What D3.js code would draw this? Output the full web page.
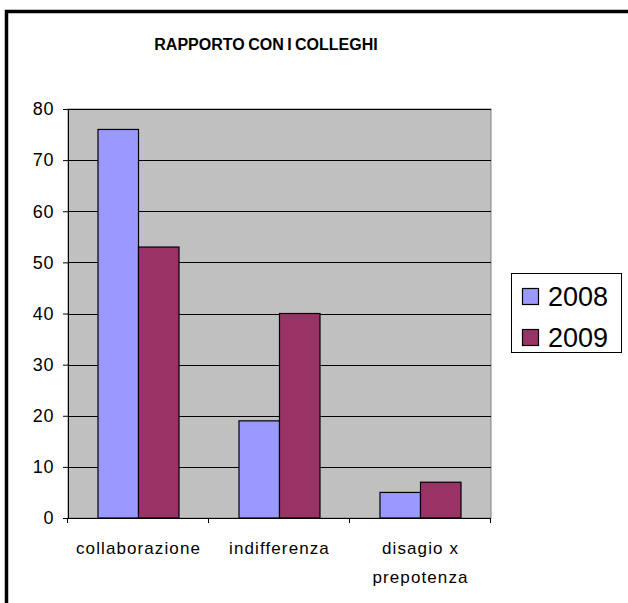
<!DOCTYPE html>
<html>
<head>
<meta charset="utf-8">
<script src="https://cdn.jsdelivr.net/npm/d3@7"></script>
<style>
  body { margin: 0; background: #fff; }
  text { font-family: "Liberation Sans", Arial, sans-serif; fill: #000; }
</style>
</head>
<body>
<div id="chart"></div>
<script>
// data
var categories = ["collaborazione", "indifferenza", "disagio x\nprepotenza"];
var series = ["2008", "2009"];
var values2008 = [76, 19, 5];
var values2009 = [53, 40, 7];
var yTicks = [0, 10, 20, 30, 40, 50, 60, 70, 80];
var colors = ["#9999ff", "#993366"];
var title = "RAPPORTO CON I COLLEGHI";

var W = 628, H = 603;
var margin = { top: 109, left: 68 };
var pw = 423, ph = 409;

var svg = d3.select("#chart").append("svg")
    .attr("width", W)
    .attr("height", H);

// outer frame (only top and left visible)
svg.append("path")
    .attr("d", "M6.5," + H + "V11.5H" + W)
    .attr("fill", "none")
    .attr("stroke", "#000")
    .attr("stroke-width", 3.5);

svg.append("text")
    .attr("x", 266)
    .attr("y", 50)
    .attr("text-anchor", "middle")
    .style("font-weight", "bold")
    .style("font-size", "16px")
    .style("word-spacing", "-1px")
    .text(title);

var g = svg.append("g")
    .attr("transform", "translate(" + margin.left + "," + margin.top + ")");

var x = d3.scaleBand().domain(categories).range([0, pw]);
var x1 = d3.scaleBand().domain(series).range([x.bandwidth() / 2 - 40.5, x.bandwidth() / 2 + 40.5]);
var y = d3.scaleLinear().domain([0, 80]).range([ph, 0]);

// plot area
g.append("rect")
    .attr("width", pw)
    .attr("height", ph)
    .attr("fill", "#c0c0c0")
    .attr("stroke", "#808080")
    .attr("stroke-width", 1);

// gridlines
g.selectAll(".grid")
    .data(yTicks.slice(1))
    .enter().append("line")
    .attr("x1", 0)
    .attr("x2", pw)
    .attr("y1", function(d) { return Math.round(y(d)) + 0.5; })
    .attr("y2", function(d) { return Math.round(y(d)) + 0.5; })
    .attr("stroke", "#000")
    .attr("stroke-width", 1);

// bars
var data = [];
categories.forEach(function(c, i) {
    data.push({ cat: c, s: "2008", v: values2008[i] });
    data.push({ cat: c, s: "2009", v: values2009[i] });
});

g.selectAll(".bar")
    .data(data)
    .enter().append("rect")
    .attr("class", "bar")
    .attr("x", function(d) { return x(d.cat) + x1(d.s); })
    .attr("y", function(d) { return y(d.v); })
    .attr("width", x1.bandwidth())
    .attr("height", function(d) { return ph - y(d.v); })
    .attr("fill", function(d) { return colors[series.indexOf(d.s)]; })
    .attr("stroke", "#000")
    .attr("stroke-width", 1.2);

// y axis
var yAxis = g.append("g")
    .call(d3.axisLeft(y).tickValues(yTicks).tickSize(5).tickPadding(9).tickSizeOuter(0));
yAxis.select(".domain").attr("stroke", "#000");
yAxis.selectAll("text")
    .style("font-size", "18px")
    .style("letter-spacing", "0.6px")
    .style("font-family", "Liberation Sans, Arial, sans-serif");

// x axis line and ticks at band edges
g.append("line")
    .attr("x1", 0).attr("x2", pw)
    .attr("y1", ph + 0.5).attr("y2", ph + 0.5)
    .attr("stroke", "#000");

var edges = categories.map(function(c) { return x(c); }).concat([pw]);
g.selectAll(".xtick")
    .data(edges)
    .enter().append("line")
    .attr("x1", function(d) { return Math.round(d) - 0.5; })
    .attr("x2", function(d) { return Math.round(d) - 0.5; })
    .attr("y1", ph)
    .attr("y2", ph + 5)
    .attr("stroke", "#000");

var labels = g.selectAll(".xlabel")
    .data(categories)
    .enter().append("text")
    .attr("text-anchor", "middle")
    .style("font-size", "17px")
    .style("letter-spacing", "1.1px")
    .attr("transform", function(d) { return "translate(" + (x(d) + x.bandwidth() / 2) + "," + (ph + 36) + ")"; });

labels.selectAll("tspan")
    .data(function(d) { return d.split("\n"); })
    .enter().append("tspan")
    .attr("x", 0)
    .attr("dy", function(d, i) { return i === 0 ? 0 : 29; })
    .text(function(d) { return d; });

// legend
var legend = svg.append("g").attr("transform", "translate(511,273)");
legend.append("rect")
    .attr("x", 0.5).attr("y", 0.5)
    .attr("width", 110).attr("height", 79)
    .attr("fill", "#fff")
    .attr("stroke", "#000");

var items = legend.selectAll(".item")
    .data(series)
    .enter().append("g")
    .attr("transform", function(d, i) { return "translate(0," + (i * 41) + ")"; });

items.append("rect")
    .attr("x", 11.5).attr("y", 15.5)
    .attr("width", 16).attr("height", 16)
    .attr("fill", function(d, i) { return colors[i]; })
    .attr("stroke", "#000")
    .attr("stroke-width", 1.2);

items.append("text")
    .attr("x", 37)
    .attr("y", 33)
    .style("font-size", "27px")
    .text(function(d) { return d; });
</script>
</body>
</html>
